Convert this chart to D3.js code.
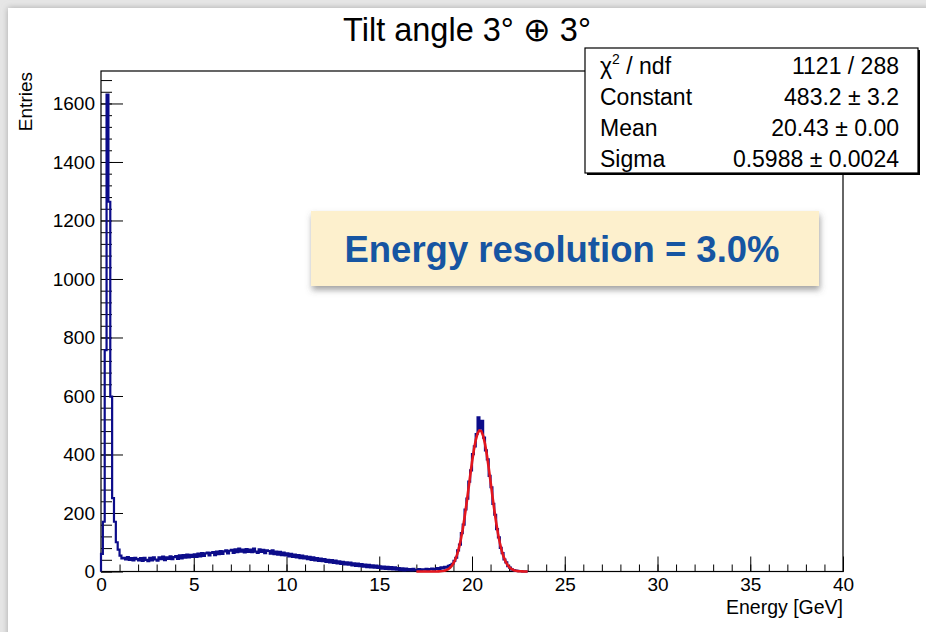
<!DOCTYPE html>
<html>
<head>
	<title>index</title>
	<meta charset="utf-8">
	<script src="https://d3js.org/d3.v7.min.js" charset="utf-8"></script>
	<style>
		body {
			margin:0;
			background:#e6e6e6;
		}
		svg {
			display:block;
			font-family:"Liberation Sans", Arial, Helvetica, sans-serif;
		}
		.axis path.domain {
			display:none;
		}
		.axis line {
			stroke:#000;
			stroke-width:1;
		}
		.axis text {
			font-size:19px;
			fill:#000;
		}
	</style>
</head>
<body>
<script>

	// histogram contents, 0.1 GeV bins starting at 0 GeV
	var binWidth = 0.1;
	var counts = [
		60,170,757,1630,1264,598,251,170,100,75,
		54,45,47,41,49,40,46,38,47,42,
		38,46,36,47,40,35,47,38,48,41,
		37,48,42,51,39,48,43,52,42,49,
		53,43,55,45,56,47,58,48,57,50,
		59,50,61,52,63,53,62,65,55,64,
		66,56,68,59,70,60,69,72,62,71,
		74,64,76,66,78,68,75,65,77,67,
		75,66,78,68,64,76,67,74,63,72,
		70,61,72,59,68,58,67,56,65,55,
		62,52,60,50,58,48,56,46,54,45,
		52,42,50,40,48,38,46,36,44,35,
		42,33,40,31,39,29,37,28,35,26,
		33,24,31,23,30,21,28,19,27,18,
		25,17,24,15,23,14,21,13,20,12,
		18,10,17,9,16,8,15,7,14,6,
		12,5,11,4,10,5,8,4,9,5,
		5,8,4,7,6,9,5,8,10,6,
		9,12,8,14,11,16,13,19,22,26,
		36,47,72,92,131,160,212,249,307,346,
		401,428,470,527,488,515,458,414,383,327,
		288,231,194,145,117,81,63,41,31,18,
		13,7,5,3,2,1,1,0,0,0
	];

	// gaussian fit curve, read every 0.1 GeV from 17 to 23 GeV
	var fitFrom = 17;
	var fitStep = 0.1;
	var fitValues = [
		0,0,0,0,0,0,0,0,0,0.1,
		0.1,0.2,0.5,0.9,1.5,2.7,4.5,7.4,11.9,18.5,
		27.9,41.0,58.6,81.4,110.1,144.7,184.9,229.8,277.8,326.6,
		373.4,415.1,448.8,471.9,482.6,479.9,464.1,436.5,399.2,355.1,
		307.2,258.4,211.4,168.2,130.1,97.9,71.6,51.0,35.3,23.7,
		15.5,9.9,6.1,3.7,2.2,1.2,0.6,0.3,0.1,0.1,
		0
	];

	var statLabels = ["χ2 / ndf", "Constant", "Mean", "Sigma"];
	var statValues = ["1121 / 288", "483.2 ± 3.2", "20.43 ± 0.00", "0.5988 ± 0.0024"];

	var xTicks = [0,5,10,15,20,25,30,35,40];
	var yTicks = [0,200,400,600,800,1000,1200,1400,1600];
	var xMinor = d3.range(0, 41, 1);
	var yMinor = d3.range(0, 1711, 40);

	var titleText = "Tilt angle 3° ⊕ 3°";
	var noteText = "Energy resolution = 3.0%";

	var W = 926, H = 632;
	var frame = {left:101, right:843, top:71, bottom:571.5};

	var svg = d3.select("body").append("svg").attr("width",W).attr("height",H);

	var defs = svg.append("defs");
	defs.append("filter").attr("id","pageShadow")
		.attr("x","-5%").attr("y","-5%").attr("width","110%").attr("height","110%")
		.append("feDropShadow").attr("dx",0).attr("dy",0).attr("stdDeviation",3)
		.attr("flood-color","#999").attr("flood-opacity",0.8);
	defs.append("filter").attr("id","noteShadow")
		.attr("x","-5%").attr("y","-20%").attr("width","110%").attr("height","150%")
		.append("feDropShadow").attr("dx",1).attr("dy",4).attr("stdDeviation",3)
		.attr("flood-color","#555").attr("flood-opacity",0.55);

	// white slide area
	svg.append("rect").attr("x",8).attr("y",8).attr("width",W).attr("height",H)
		.attr("fill","#fff").attr("filter","url(#pageShadow)");

	var x = d3.scaleLinear().domain([0,40]).range([frame.left, frame.right]);
	var y = d3.scaleLinear().domain([0,1711]).range([frame.bottom, frame.top]);

	drawAxes();
	drawHist();
	drawFit();
	drawStats();
	drawNote();

	function drawAxes() {
		svg.append("g").attr("class","axis")
			.attr("transform","translate(0,"+frame.bottom+")")
			.call(d3.axisBottom(x).tickValues(xMinor).tickSize(-7).tickSizeOuter(0).tickFormat(""));
		svg.append("g").attr("class","axis")
			.attr("transform","translate(0,"+frame.bottom+")")
			.call(d3.axisBottom(x).tickValues(xTicks).tickSize(-15).tickSizeOuter(0).tickPadding(6).tickFormat(d3.format("d")));

		svg.append("g").attr("class","axis")
			.attr("transform","translate("+frame.left+",0)")
			.call(d3.axisLeft(y).tickValues(yMinor).tickSize(-11).tickSizeOuter(0).tickFormat(""));
		svg.append("g").attr("class","axis")
			.attr("transform","translate("+frame.left+",0)")
			.call(d3.axisLeft(y).tickValues(yTicks).tickSize(-22).tickSizeOuter(0).tickPadding(6).tickFormat(d3.format("d")));

		svg.append("rect")
			.attr("x",frame.left).attr("y",frame.top)
			.attr("width",frame.right-frame.left).attr("height",frame.bottom-frame.top)
			.attr("fill","none").attr("stroke","#000").attr("stroke-width",1.2);

		svg.append("text")
			.attr("x",frame.right).attr("y",614)
			.attr("text-anchor","end").attr("font-size",19.5)
			.text("Energy [GeV]");

		svg.append("text")
			.attr("transform","translate(32,"+(frame.top+1)+") rotate(-90)")
			.attr("text-anchor","end").attr("font-size",19)
			.text("Entries");

		svg.append("text")
			.attr("x",467).attr("y",41)
			.attr("text-anchor","middle").attr("font-size",32.5)
			.text(titleText);
	} // drawAxes

	function drawHist() {
		var pts = [[0,0]];
		counts.forEach(function(c,i) { pts.push([i*binWidth, c]); });
		pts.push([counts.length*binWidth, 0]);

		var line = d3.line()
			.x(function(d) { return x(d[0]); })
			.y(function(d) { return y(d[1]); })
			.curve(d3.curveStepAfter);

		svg.append("path").datum(pts)
			.attr("d",line)
			.attr("fill","none")
			.attr("stroke","#0c0c8a")
			.attr("stroke-width",2.2);
	} // drawHist

	function drawFit() {
		var line = d3.line()
			.x(function(d,i) { return x(fitFrom + i*fitStep); })
			.y(function(d) { return y(d); });

		svg.append("path").datum(fitValues)
			.attr("d",line)
			.attr("fill","none")
			.attr("stroke","#e3161d")
			.attr("stroke-width",2.6)
			.attr("stroke-linejoin","round");
	} // drawFit

	function drawStats() {
		var bx = 585, by = 48, bw = 333, bh = 125;
		svg.append("rect").attr("x",bx+2).attr("y",by+2).attr("width",bw).attr("height",bh).attr("fill","#000");
		svg.append("rect").attr("x",bx).attr("y",by).attr("width",bw).attr("height",bh)
			.attr("fill","#fff").attr("stroke","#000").attr("stroke-width",1.2);

		var rows = svg.append("g").selectAll("g").data(statLabels).enter().append("g");
		rows.append("text")
			.attr("x",600)
			.attr("y",function(d,i) { return 74 + i*31; })
			.attr("font-size",23)
			.each(function(d) {
				var t = d3.select(this);
				if (d.indexOf("χ2") == 0) {
					t.append("tspan").text("χ");
					t.append("tspan").attr("font-size",14).attr("dy",-10).text("2");
					t.append("tspan").attr("dy",10).text(d.slice(2));
				} else {
					t.text(d);
				}
			});
		rows.append("text")
			.attr("x",899)
			.attr("y",function(d,i) { return 74 + i*31; })
			.attr("text-anchor","end")
			.attr("font-size",23)
			.text(function(d,i) { return statValues[i]; });
	} // drawStats

	function drawNote() {
		svg.append("rect")
			.attr("x",311).attr("y",211).attr("width",508).attr("height",75)
			.attr("fill","#fdf0cd").attr("filter","url(#noteShadow)");
		svg.append("text")
			.attr("x",562).attr("y",262)
			.attr("text-anchor","middle")
			.attr("font-size",36.5).attr("font-weight","bold")
			.attr("fill","#1655a2")
			.text(noteText);
	} // drawNote

</script>
</body>
</html>
